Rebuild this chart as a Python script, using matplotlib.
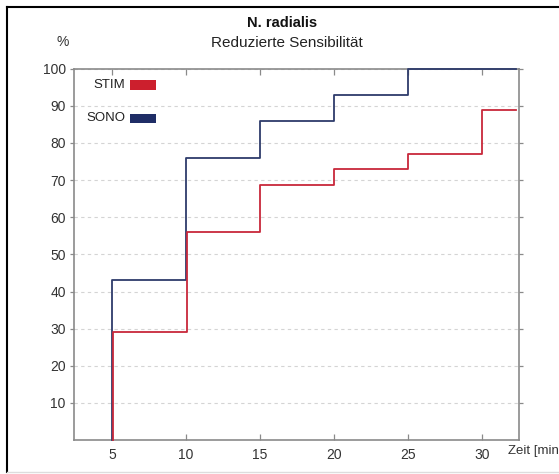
import matplotlib
matplotlib.use("Agg")
import matplotlib.pyplot as plt
from matplotlib.patches import Rectangle
from matplotlib.lines import Line2D

plt.rcParams["font.family"] = ["Liberation Sans", "DejaVu Sans"]

# step data (time in min, cumulative %)
sono_x = [5, 5, 10, 15, 20, 25, 32.3]
sono_y = [0, 43, 76, 86, 93, 100, 100]
stim_x = [5.08, 5.08, 10.05, 15, 20, 25, 30, 32.3]
stim_y = [0, 29, 56, 68.8, 73, 77, 89, 89]

x_ticks = [5, 10, 15, 20, 25, 30]
y_ticks = [10, 20, 30, 40, 50, 60, 70, 80, 90, 100]

series_names = ["STIM", "SONO"]
series_colors = ["#cc1f2d", "#1f2d66"]
line_colors = ["#c8283a", "#2e3b6b"]

fig = plt.figure(figsize=(5.59, 4.74), dpi=100)
ax = fig.add_axes([0.1324, 0.0717, 0.796, 0.7833])

ax.plot(sono_x, sono_y, drawstyle="steps-post", color=line_colors[1], lw=1.3,
        clip_on=False, zorder=4)
ax.plot(stim_x, stim_y, drawstyle="steps-post", color=line_colors[0], lw=1.3,
        clip_on=False, zorder=4)

ax.set_xlim(2.42, 32.5)
ax.set_ylim(0, 100)
ax.set_xticks(x_ticks)
ax.set_yticks(y_ticks)
ax.yaxis.grid(True, ls=(0, (3, 3)), color="#d4d4d4", lw=0.8)
ax.set_axisbelow(True)

for sp in ax.spines.values():
    sp.set_color("#8a8a8a")
    sp.set_linewidth(1.2)

ax.tick_params(axis="both", colors="#8a8a8a", labelcolor="#333333", labelsize=10,
               direction="in", length=4, width=0.9, top=True, right=True)
ax.tick_params(axis="y", left=True, direction="out", length=3, pad=3)
ax.tick_params(axis="x", pad=6)

# hand-made legend: label then colour block
leg_y = [0.956, 0.866]
for name, col, yy in zip(series_names, series_colors, leg_y):
    ax.text(0.115, yy, name, transform=ax.transAxes, ha="right", va="center",
            fontsize=9.5, color="#222222")
    ax.add_patch(Rectangle((0.126, yy - 0.013), 0.058, 0.026, transform=ax.transAxes,
                           facecolor=col, edgecolor="none"))

fig.text(0.505, 0.951, "N. radialis", ha="center", va="center",
         fontsize=10.5, fontweight="bold", color="#111111")
fig.text(0.513, 0.909, "Reduzierte Sensibilität", ha="center", va="center",
         fontsize=11, color="#222222")
fig.text(0.113, 0.911, "%", ha="center", va="center", fontsize=10, color="#333333")
# the reference shows the axis label cut at the picture edge
fig.text(0.909, 0.0485, "Zeit [min", ha="left", va="center", fontsize=9.5, color="#333333")

# frame around the picture
fig.add_artist(Line2D([7 / 559, 7 / 559], [1 - 7 / 474, 2 / 474], transform=fig.transFigure,
                      color="black", lw=1.5))
fig.add_artist(Line2D([7 / 559, 1.0], [1 - 7 / 474, 1 - 7 / 474], transform=fig.transFigure,
                      color="black", lw=1.5))
fig.add_artist(Line2D([7 / 559, 1.0], [2.5 / 474, 2.5 / 474], transform=fig.transFigure,
                      color="#dddddd", lw=1.0))

fig.savefig("out.png", dpi=100)
